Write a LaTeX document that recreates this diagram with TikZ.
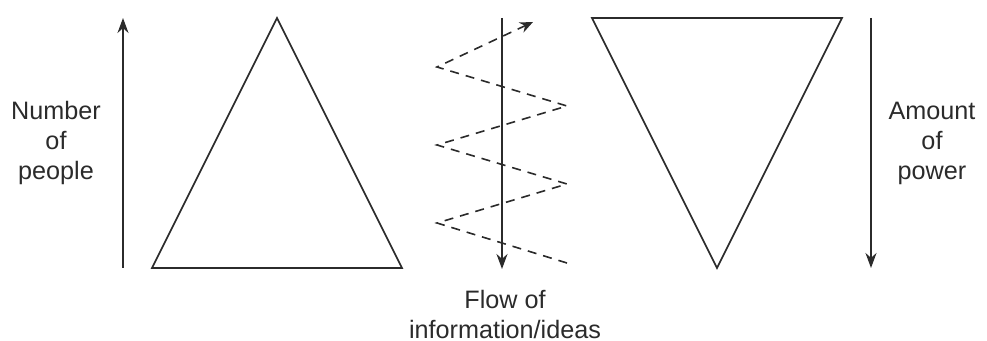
\documentclass[tikz,border=0pt]{standalone}
\usepackage{fontspec}
\setmainfont{Liberation Sans}
\usetikzlibrary{positioning, arrows.meta}
\definecolor{linie}{HTML}{2B2B2B}

\begin{document}
\begin{tikzpicture}[x=0.5pt, y=-0.5pt,
      dreieck/.style={draw=linie, line width=0.8pt, line join=miter},
      pfeil/.style={-{Stealth[length=7.5pt, width=5.5pt]}, linie, line width=0.9pt},
      zickzack/.style={-{Stealth[length=6.5pt, width=5.5pt]}, linie, line width=0.8pt,
        dash pattern=on 4.5pt off 3.5pt},
      beschriftung/.style={align=center, text=linie, font=\fontsize{12.6}{15}\selectfont}]
    \useasboundingbox (0,0) rectangle (987,341);
    % Pyramide und umgekehrte Pyramide
    \draw[dreieck] (277,18) -- (402,268) -- (152,268) -- cycle;
    \draw[dreieck] (592,18) -- (842,18) -- (717,268) -- cycle;
    % Pfeile
    \coordinate (links unten) at (123,268);
    \coordinate (links oben) at (123,18);
    \coordinate (mitte oben) at (502,18);
    \coordinate (mitte unten) at (502,269);
    \coordinate (rechts oben) at (871,18);
    \coordinate (rechts unten) at (871,268);
    \draw[pfeil] (links unten) -- (links oben);
    \draw[pfeil] (mitte oben) -- (mitte unten);
    \draw[pfeil] (rechts oben) -- (rechts unten);
    % Informationsfluss nach oben
    \draw[zickzack] (567,263) -- (437,223) -- (567,184) -- (437,145)
      -- (567,106) -- (437,67) -- (533,22);
    % Beschriftungen
    \node[beschriftung] (menschen) at (56,143) {Number\\of\\people};
    \node[beschriftung] (macht) at (932,143) {Amount\\of\\power};
    \node[beschriftung] (fluss) at (505,314) {Flow of\\information/ideas};
  \end{tikzpicture}
\end{document}
